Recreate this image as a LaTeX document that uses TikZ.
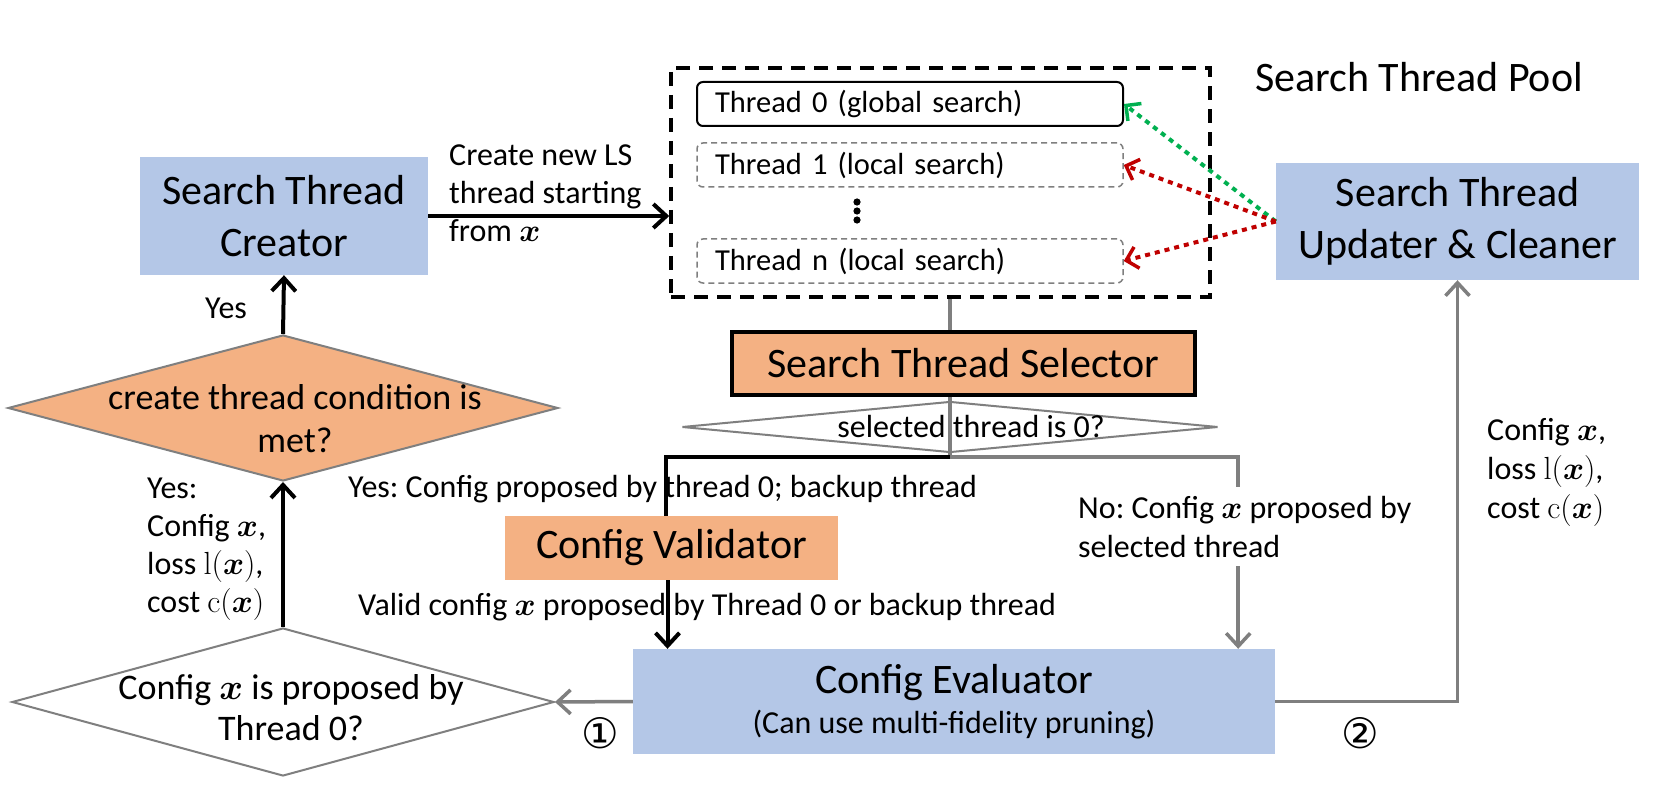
\RequirePackage{fix-cm}
\documentclass[tikz,border=0pt]{standalone}
\usepackage{amsmath}
\usepackage{bm}
\usepackage[no-math]{fontspec}
\setmainfont{Carlito}
\newfontfamily\circfont{DejaVu Sans}
\usetikzlibrary{shapes.geometric,arrows.meta,calc}
\definecolor{boxblue}{HTML}{B4C7E7}
\definecolor{boxorange}{HTML}{F4B183}
\definecolor{linegray}{HTML}{7F7F7F}
\definecolor{dotgreen}{HTML}{00B050}
\definecolor{dotred}{HTML}{C00000}
\newcommand{\fsz}[2]{\fontsize{#1}{#2}\selectfont}
\newcommand{\bx}{\ensuremath{\bm{x}}}
\frenchspacing
\tikzset{
  bluebox/.style={fill=boxblue, draw=none, inner sep=0pt, align=center, font=\fsz{42}{52}},
  orangebox/.style={fill=boxorange, draw=none, inner sep=0pt, align=center, font=\fsz{42}{52}},
  threadbox/.style={rounded corners=6pt, minimum height=44pt, text width=390pt, inner xsep=18pt, inner ysep=0pt, align=left, font=\fsz{30.5}{38}},
  diam/.style={shape=diamond, draw=linegray, line width=2pt, inner sep=0pt},
  lbl/.style={font=\fsz{32}{38}, inner sep=0pt, align=left},
  tip/.style={-{Straight Barb[length=13pt,width=24pt]}},
  blackline/.style={line width=4pt, black},
  grayline/.style={line width=3.5pt, linegray},
  dotline/.style={line width=4pt, dash pattern=on 5pt off 5pt, -{Straight Barb[length=11pt,width=22pt,line width=3.5pt]}},
  circnum/.style={font=\circfont\fsz{42}{44}, inner sep=0pt},
}
\begin{document}
\begin{tikzpicture}[x=1pt,y=-1pt]
\fill[white] (0,0) rectangle (1664,794);
\useasboundingbox (0,0) rectangle (1664,794);

% search thread pool
\node[draw=black, line width=3.5pt, dash pattern=on 14pt off 9pt, minimum width=539pt, minimum height=229pt, inner sep=0pt] (pool) at (940.5,182.5) {};
\node[font=\fsz{42}{52}, inner sep=0pt, anchor=base west] (pooltitle) at (1255,92) {Search Thread Pool};
\node[threadbox, draw=black, line width=2pt] (thread0) at (910,104) {Thread 0 (global search)};
\node[threadbox, draw=linegray, line width=1.5pt, dash pattern=on 6pt off 4pt] (thread1) at (910,165) {Thread 1 (local search)};
\node[threadbox, draw=linegray, line width=1.5pt, dash pattern=on 6pt off 4pt] (threadn) at (910,261) {Thread n (local search)};
\foreach \yy in {202,211,220} \fill (857,\yy) circle (3.6pt);

% boxes
\node[bluebox, minimum width=288pt, minimum height=118pt] (creator) at (284,216) {Search Thread\\Creator};
\node[bluebox, minimum width=363pt, minimum height=117pt] (updater) at (1457.5,221.5) {Search Thread\\Updater \& Cleaner};
\node[orangebox, draw=black, line width=4pt, minimum width=463pt, minimum height=63pt] (selector) at (963.5,363.5) {Search Thread Selector};
\node[orangebox, minimum width=333pt, minimum height=64pt] (validator) at (671.5,548) {Config Validator};
\node[bluebox, font=\fsz{32}{40}, minimum width=642pt, minimum height=105pt] (evaluator) at (954,701.5) {{\fsz{42}{40}Config Evaluator}\\(Can use multi-fidelity pruning)};

% diamonds
\node[diam, fill=boxorange, minimum width=550pt, minimum height=146pt] (d1) at (283,408) {};
\node[font=\fsz{36}{43}, inner sep=0pt, align=center, anchor=base] (d1text) at (295,452) {create thread condition is\\met?};
\node[diam, fill=white, minimum width=542pt, minimum height=148pt] (d2) at (283,702) {};
\node[font=\fsz{36}{41}, inner sep=0pt, align=center, anchor=base] (d2text) at (291,740) {Config \bx{} is proposed by\\Thread 0?};
\node[diam, fill=white, minimum width=536pt, minimum height=51pt] (seldia) at (950,427) {};
\node[font=\fsz{32}{38}, inner sep=0pt, anchor=base] (seltext) at (971,437) {selected thread is 0?};
\coordinate (split) at (950,457);

% labels
\node[lbl, anchor=base west] (lcreate) at (449,242) {Create new LS\\thread starting\\from \bx};
\node[lbl, anchor=base west] (lyes) at (205,318) {Yes};
\node[lbl, anchor=base west] (lyesres) at (147,612) {Yes:\\Config \bx,\\loss $\mathrm{l}(\bm{x})$,\\cost $\mathrm{c}(\bm{x})$};
\node[lbl, anchor=base west] (lyessel) at (348,497) {Yes: Config proposed by thread 0; backup thread};
\node[lbl, anchor=base west] (lvalid) at (358,615) {Valid config \bx{} proposed by Thread 0 or backup thread};
\node[lbl, font=\fsz{32}{39}, anchor=base west] (lres) at (1487,518) {Config \bx,\\loss $\mathrm{l}(\bm{x})$,\\cost $\mathrm{c}(\bm{x})$};
\node[circnum] (c1) at (600,733) {①};
\node[circnum] (c2) at (1360,733) {②};

% connectors
\draw[blackline, tip] (creator.east) -- (creator.east -| pool.west);
\draw[blackline, tip] (d1.north) -- (creator.south);
\draw[blackline, tip] (d2.north) -- (d1.south);
\draw[grayline] (pool.south -| seldia) -- (selector.north -| seldia);
\draw[grayline] (selector.south -| seldia) -- (split);
\draw[blackline] (split) -| ([xshift=-6pt]validator.north);
\draw[blackline, tip] ([xshift=-4pt]validator.south) -- ([xshift=-4pt]validator.south |- evaluator.north);
\draw[grayline, tip] (split) -| ([xshift=-37pt]evaluator.north east);
\node[lbl, font=\fsz{32}{39}, fill=white, inner xsep=2pt, inner ysep=9pt, anchor=base west] (lno) at (1076,557) {No: Config \bx{} proposed by\\selected thread};
\draw[grayline, tip] (evaluator.west) -- (d2.east);
\draw[grayline, tip] (evaluator.east) -| (updater.south);
\draw[dotline, dotgreen] (updater.west) -- (thread0.east);
\draw[dotline, dotred] (updater.west) -- (thread1.east);
\draw[dotline, dotred] (updater.west) -- (threadn.east);
\end{tikzpicture}
\end{document}
